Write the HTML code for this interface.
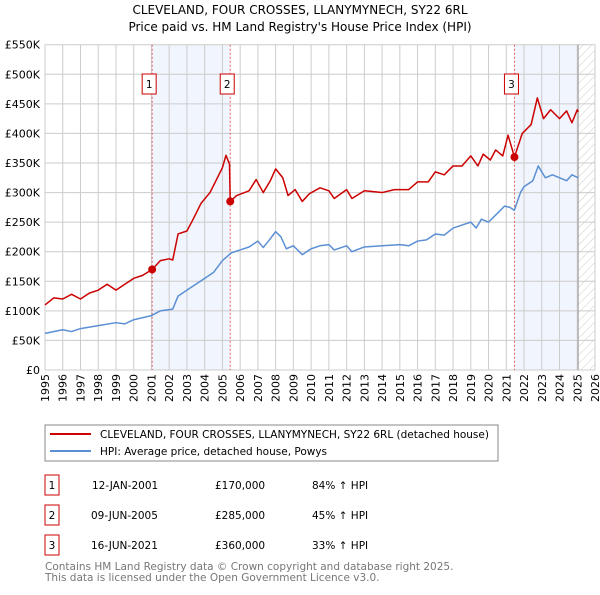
<!DOCTYPE html>
<html><head><meta charset="utf-8"><style>
body{margin:0;background:#fff;font-family:"Liberation Sans","DejaVu Sans",sans-serif;}
svg text{font-family:"DejaVu Sans","Liberation Sans",sans-serif;}
</style></head><body>
<svg id="c" width="600" height="590" xmlns="http://www.w3.org/2000/svg">
<defs><pattern id="hatch" width="6" height="6" patternUnits="userSpaceOnUse" patternTransform="rotate(45)"><line x1="0" y1="0" x2="0" y2="6" stroke="#ccc" stroke-width="1"/></pattern></defs>
<text x="300" y="14" text-anchor="middle" font-size="12">CLEVELAND, FOUR CROSSES, LLANYMYNECH, SY22 6RL</text>
<text x="300" y="31" text-anchor="middle" font-size="12">Price paid vs. HM Land Registry's House Price Index (HPI)</text>
<g id="plot"></g>
<rect x="45" y="425" width="453" height="36" fill="#fff" stroke="#888"/>
<line x1="50" y1="434" x2="91" y2="434" stroke="#cc0000" stroke-width="2"/>
<text x="100" y="438" font-size="10.5">CLEVELAND, FOUR CROSSES, LLANYMYNECH, SY22 6RL (detached house)</text>
<line x1="50" y1="451" x2="91" y2="451" stroke="#5b8fd4" stroke-width="2"/>
<text x="100" y="455" font-size="10.5">HPI: Average price, detached house, Powys</text>
<g font-size="10.5">
<rect x="45" y="475" width="14" height="20" fill="none" stroke="#cc0000"/><text x="52" y="489" text-anchor="middle">1</text>
<text x="92" y="489">12-JAN-2001</text><text x="215" y="489">£170,000</text><text x="312" y="489">84% ↑ HPI</text>
<rect x="45" y="505" width="14" height="20" fill="none" stroke="#cc0000"/><text x="52" y="519" text-anchor="middle">2</text>
<text x="91" y="519">09-JUN-2005</text><text x="215" y="519">£285,000</text><text x="312" y="519">45% ↑ HPI</text>
<rect x="45" y="535" width="14" height="20" fill="none" stroke="#cc0000"/><text x="52" y="549" text-anchor="middle">3</text>
<text x="91" y="549">16-JUN-2021</text><text x="215" y="549">£360,000</text><text x="312" y="549">33% ↑ HPI</text>
</g>
<text x="45" y="570" font-size="10.5" fill="#777">Contains HM Land Registry data © Crown copyright and database right 2025.</text>
<text x="45" y="581" font-size="10.5" fill="#777">This data is licensed under the Open Government Licence v3.0.</text>
</svg>
<script>
const yTicks=[0,50,100,150,200,250,300,350,400,450,500,550];
const yTickLabels=["£0","£50K","£100K","£150K","£200K","£250K","£300K","£350K","£400K","£450K","£500K","£550K"];
const years=[1995,1996,1997,1998,1999,2000,2001,2002,2003,2004,2005,2006,2007,2008,2009,2010,2011,2012,2013,2014,2015,2016,2017,2018,2019,2020,2021,2022,2023,2024,2025,2026];
const hpiT=[1995,1996,1996.5,1997,1998,1999,1999.5,2000,2001,2001.5,2002.2,2002.5,2003,2004,2004.5,2005,2005.5,2006,2006.5,2007,2007.3,2007.7,2008,2008.3,2008.6,2009,2009.5,2010,2010.5,2011,2011.3,2012,2012.3,2013,2014,2015,2015.5,2016,2016.5,2017,2017.5,2018,2018.5,2019,2019.3,2019.6,2020,2020.4,2020.9,2021.2,2021.45,2021.8,2022,2022.5,2022.8,2023.2,2023.6,2024,2024.4,2024.7,2025.05];
const hpiV=[62,68,65,70,75,80,78,85,92,100,103,125,135,155,165,185,198,203,208,218,207,222,234,225,205,210,195,205,210,212,203,210,200,208,210,212,210,218,220,230,228,240,245,250,240,255,250,262,277,275,270,300,310,320,345,325,330,325,320,330,325];
const propT=[1995,1995.5,1996,1996.5,1997,1997.5,1998,1998.5,1999,1999.5,2000,2000.5,2001.04,2001.5,2002,2002.2,2002.5,2003,2003.3,2003.8,2004.3,2004.6,2005,2005.2,2005.4,2005.44,2005.8,2006.5,2006.9,2007.3,2007.7,2008,2008.4,2008.7,2009.1,2009.5,2009.9,2010.5,2011,2011.3,2012,2012.3,2013,2014,2014.7,2015.5,2016,2016.6,2017,2017.5,2018,2018.5,2019,2019.4,2019.7,2020.1,2020.4,2020.8,2021.1,2021.46,2021.9,2022.4,2022.75,2023.1,2023.5,2024,2024.4,2024.7,2025,2025.05];
const propV=[110,122,120,128,120,130,135,145,135,145,155,160,170,185,188,186,230,235,252,282,300,318,342,363,348,285,295,303,322,300,320,340,325,295,305,285,298,308,303,290,305,290,303,300,305,305,318,318,335,330,345,345,362,345,365,355,372,362,397,360,400,415,460,425,440,425,438,418,440,436];
const saleT=[2001.04,2005.44,2021.46];
const saleV=[170,285,360];
const saleLabels=["1","2","3"];

const X0=45,X1=595,Y0=370,Y1=44.7;
const x=t=>X0+(t-1995)*(X1-X0)/31;
const y=v=>Y0-v*(Y0-Y1)/550;
const NS="http://www.w3.org/2000/svg";
const g=document.getElementById('plot');
function mk(tag,attrs){const e=document.createElementNS(NS,tag);for(const k in attrs)e.setAttribute(k,attrs[k]);g.appendChild(e);return e;}

let e;
e=mk('rect',{x:X0,y:Y1,width:X1-X0,height:Y0-Y1,fill:'#fff'});


e=mk('rect',{x:x(saleT[0]),y:Y1,width:x(saleT[1])-x(saleT[0]),height:Y0-Y1,fill:'#eef3fc',opacity:0.8});


e=mk('rect',{x:x(saleT[2]),y:Y1,width:x(2025.05)-x(saleT[2]),height:Y0-Y1,fill:'#eef3fc',opacity:0.8});


e=mk('rect',{x:x(2025.05),y:Y1,width:X1-x(2025.05),height:Y0-Y1,fill:'url(#hatch)'});


years.forEach(yr=>{
  e=mk('line',{x1:x(yr),x2:x(yr),y1:Y1,y2:Y0,stroke:'#ccc','stroke-width':1});
  
  
  const tx=x(yr)+4,ty=374;
  e=mk('text',{x:tx,y:ty,'text-anchor':'end','font-size':11,transform:'rotate(-90 '+tx+' '+ty+')'});
  e.textContent=yr;
  
  
});
yTicks.forEach((v,i)=>{
  e=mk('line',{x1:X0,x2:X1,y1:y(v),y2:y(v),stroke:'#ccc','stroke-width':1});
  
  
  e=mk('text',{x:40,y:y(v)+4,'text-anchor':'end','font-size':11});
  e.textContent=yTickLabels[i];
  
  
});
e=mk('line',{x1:x(2025.05),x2:x(2025.05),y1:Y1,y2:Y0,stroke:'#999','stroke-width':1});


saleT.forEach((t,i)=>{
  e=mk('line',{x1:x(t),x2:x(t),y1:Y1,y2:Y0,stroke:'#e06060','stroke-width':1,'stroke-dasharray':'2,2'});
  
  
  e=mk('rect',{x:x(t)-10,y:74,width:14,height:20,fill:'#fff',stroke:'#cc0000'});
  
  
  e=mk('text',{x:x(t)-3,y:88,'text-anchor':'middle','font-size':10.5});
  e.textContent=saleLabels[i];
  
  
});
e=mk('polyline',{points:hpiT.map((t,i)=>x(t)+','+y(hpiV[i])).join(' '),fill:'none',stroke:'#5b8fd4','stroke-width':1.5,'stroke-linejoin':'round'});


e=mk('polyline',{points:propT.map((t,i)=>x(t)+','+y(propV[i])).join(' '),fill:'none',stroke:'#cc0000','stroke-width':1.5,'stroke-linejoin':'round'});


saleT.forEach((t,i)=>{
  e=mk('circle',{cx:x(t),cy:y(saleV[i]),r:4,fill:'#cc0000'});
  
  
});
</script>
</body></html>
